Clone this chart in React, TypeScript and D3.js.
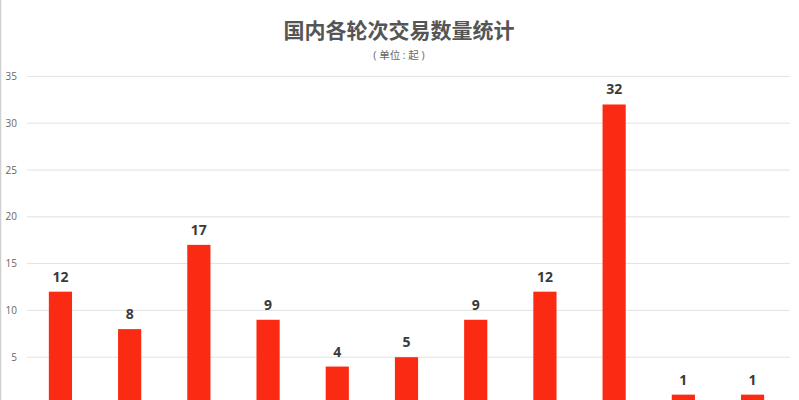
import * as d3 from 'd3';
import React from 'react';

const categories = ['种子轮', '天使轮', 'Pre-A轮', 'A轮', 'A+轮', 'Pre-B轮', 'B轮', 'B+轮', 'C轮', 'D轮', 'E轮'];
const counts = [12, 8, 17, 9, 4, 5, 9, 12, 32, 1, 1];
const yTicks = [5, 10, 15, 20, 25, 30, 35];

export default function App() {
  const w = 799;
  const h = 400;
  const font = "'Open Sans', 'Noto Sans CJK SC', sans-serif";

  // the x-axis sits just below the visible area, so only bars are shown
  const xScale = d3.scaleBand<string>().domain(categories).range([26, 787]).paddingInner(0.665).paddingOuter(0.33);

  const yScale = d3.scaleLinear().domain([0, 35]).range([404, 76.4]);

  return (
    <svg
      width={w}
      height={h}
      style={{ position: 'absolute', left: 0, top: 0, display: 'block', background: 'white' }}>
      <line x1={0.5} x2={0.5} y1={0} y2={h} stroke='#d0d0d0' strokeWidth={1.5} />
      <text x={399} y={38} textAnchor='middle' fontFamily={font} fontSize={21} fontWeight='bold' fill='#555'>
        国内各轮次交易数量统计
      </text>
      <text x={399} y={59} textAnchor='middle' fontFamily={font} fontSize={10.5} fill='#666'>
        ( 单位 : 起 )
      </text>
      <g>
        {yTicks.map((t) => (
          <g key={t}>
            <line x1={27} x2={790} y1={yScale(t)} y2={yScale(t)} stroke='#e2e2e2' strokeWidth={1} />
            <text
              x={17}
              y={yScale(t)}
              dy='0.35em'
              textAnchor='end'
              fontFamily={font}
              fontSize={10}
              fill='#666'>
              {t}
            </text>
          </g>
        ))}
      </g>
      <g>
        {categories.map((c, i) => (
          <g key={c}>
            <rect
              x={xScale(c)}
              y={yScale(counts[i])}
              width={xScale.bandwidth()}
              height={yScale(0) - yScale(counts[i])}
              fill='#fb2a12'
            />
            <text
              x={(xScale(c) ?? 0) + xScale.bandwidth() / 2}
              y={yScale(counts[i]) - 10}
              textAnchor='middle'
              fontFamily={font}
              fontSize={14}
              fontWeight='bold'
              fill='#3a3a3a'>
              {counts[i]}
            </text>
          </g>
        ))}
      </g>
    </svg>
  );
}
